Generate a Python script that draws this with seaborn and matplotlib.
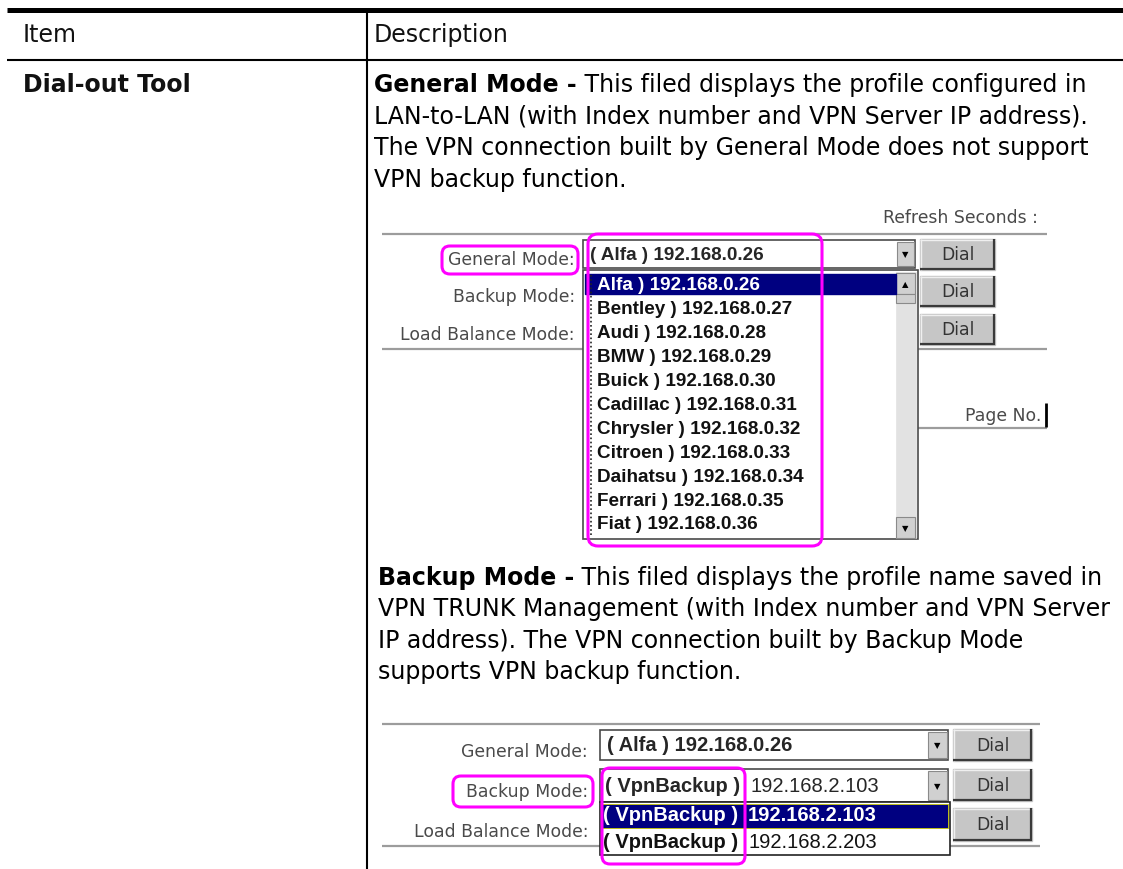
import matplotlib
matplotlib.use("Agg")
import matplotlib.pyplot as plt
import seaborn as sns
from matplotlib.patches import Rectangle, FancyBboxPatch

# table text
item_header = "Item"
desc_header = "Description"
item_name = "Dial-out Tool"

general_lines = [
    [("General Mode -", "bold"), (" This filed displays the profile configured in", "normal")],
    [("LAN-to-LAN (with Index number and VPN Server IP address).", "normal")],
    [("The VPN connection built by General Mode does not support", "normal")],
    [("VPN backup function.", "normal")],
]
backup_lines = [
    [("Backup Mode -", "bold"), (" This filed displays the profile name saved in", "normal")],
    [("VPN TRUNK Management (with Index number and VPN Server", "normal")],
    [("IP address). The VPN connection built by Backup Mode", "normal")],
    [("supports VPN backup function.", "normal")],
]

# screenshot contents
mode_labels = ["General Mode:", "Backup Mode:", "Load Balance Mode:"]
button_text = "Dial"
refresh_label = "Refresh Seconds :"
page_label = "Page No."
profile_names = ["Alfa", "Bentley", "Audi", "BMW", "Buick", "Cadillac",
                 "Chrysler", "Citroen", "Daihatsu", "Ferrari", "Fiat"]
profile_ips = ["192.168.0.26", "192.168.0.27", "192.168.0.28", "192.168.0.29",
               "192.168.0.30", "192.168.0.31", "192.168.0.32", "192.168.0.33",
               "192.168.0.34", "192.168.0.35", "192.168.0.36"]
trunk_names = ["VpnBackup", "VpnBackup"]
trunk_ips = ["192.168.2.103", "192.168.2.203"]

MAGENTA = "#ff00ff"
NAVY = "#000080"
SEP = "#9c9c9c"
LABEL = "#4a4a4a"
BODY = 17.0
UI = 12.4

sns.set_theme(style="white")
plt.rcParams["font.family"] = ["DejaVu Sans"]

fig = plt.figure(figsize=(11.23, 8.70), dpi=100)
ax = fig.add_axes([0, 0, 1, 1])
ax.set_xlim(0, 1123)
ax.set_ylim(870, 0)
ax.axis("off")


def hline(x0, x1, y, color=SEP, lw=1.6, z=2):
    ax.plot([x0, x1], [y, y], color=color, lw=lw, solid_capstyle="butt", zorder=z)


def vline(x, y0, y1, color="black", lw=1.5, z=2, ls="-"):
    ax.plot([x, x], [y0, y1], color=color, lw=lw, ls=ls, solid_capstyle="butt", zorder=z)


def box(x, y, w, h, fc="white", ec="#555555", lw=1.0, z=3):
    ax.add_patch(Rectangle((x, y), w, h, facecolor=fc, edgecolor=ec, lw=lw, zorder=z))


def ring(x, y, w, h, r=8):
    ax.add_patch(FancyBboxPatch((x, y), w, h, boxstyle=f"round,pad=0,rounding_size={r}",
                                facecolor="none", edgecolor=MAGENTA, lw=2.2, zorder=10))


def button(x, y, w, h):
    box(x, y, w, h, fc="#c6c6c6", ec="#c6c6c6", z=3)
    hline(x, x + w, y + 0.5, color="#efefef", lw=1, z=4)
    vline(x + 0.5, y, y + h, color="#efefef", lw=1, z=4)
    hline(x, x + w, y + h - 1, color="#3a3a3a", lw=1.6, z=4)
    vline(x + w - 1, y, y + h, color="#3a3a3a", lw=1.6, z=4)
    ax.text(x + w / 2, y + h / 2, button_text, ha="center", va="center",
            fontsize=UI, color="#333333", zorder=5)


def arrow_btn(x, y, w, h, glyph="\u25bc"):
    box(x, y, w, h, fc="#d0d0d0", ec="#8a8a8a", lw=0.8, z=4)
    ax.text(x + w / 2, y + h / 2, glyph, ha="center", va="center", fontsize=6,
            color="black", zorder=5)


def rich_line(x, y, parts, size=BODY, color="black"):
    prev = None
    for txt, weight in parts:
        if prev is None:
            prev = ax.text(x, y, txt, fontsize=size, fontweight=weight, color=color,
                           ha="left", va="center", zorder=6)
        else:
            prev = ax.annotate(txt, xy=(1, 0), xycoords=prev, fontsize=size,
                               fontweight=weight, color=color, ha="left",
                               va="bottom", zorder=6)


# ---- table frame ----
hline(7, 1123, 11, color="black", lw=3.6)
hline(7, 1123, 61, color="black", lw=1.5)
vline(367, 13, 870, color="black", lw=1.5)
ax.text(23, 35, item_header, fontsize=BODY, fontweight="medium", va="center", color="#111111")
ax.text(374, 35, desc_header, fontsize=BODY, fontweight="medium", va="center", color="#111111")
ax.text(23, 85, item_name, fontsize=BODY, fontweight="bold", va="center", color="#111111")

for i, parts in enumerate(general_lines):
    rich_line(374, 85 + i * 31.6, parts)
for i, parts in enumerate(backup_lines):
    rich_line(378, 578 + i * 31.3, parts)

# ---- screenshot 1 : general mode list ----
ax.text(1038, 218, refresh_label, ha="right", va="center", fontsize=UI, color=LABEL)
hline(382, 1047, 235)
hline(382, 583, 350)
hline(918, 1047, 350)
hline(918, 1047, 429)
for lab, y in zip(mode_labels, [260, 297, 335]):
    ax.text(575, y, lab, ha="right", va="center", fontsize=UI, color=LABEL)

box(583, 241, 332, 28, ec="#4a4a4a", lw=1.2)
arrow_btn(897, 243, 17, 24)
ax.text(590, 256, f"( {profile_names[0]} ) {profile_ips[0]}", family="Liberation Sans",
        fontweight="bold", fontsize=13.6, va="center", zorder=6)
for y0 in [240, 277, 315]:
    button(920, y0, 75, 31)

box(583, 271, 335, 269, ec="#4a4a4a", lw=1.2)
box(896, 273, 20, 266, fc="#e2e2e2", ec="#e2e2e2", lw=0.5, z=4)
arrow_btn(896, 274, 19, 21, "\u25b2")
box(896, 295, 19, 9, fc="#d0d0d0", ec="#8a8a8a", lw=0.8, z=4)
arrow_btn(896, 518, 19, 21)
box(585, 275, 311, 20, fc=NAVY, ec=NAVY, z=4)
for i, (name, ip) in enumerate(zip(profile_names, profile_ips)):
    ax.text(597, 286 + i * 23.9, f"{name} ) {ip}", family="Liberation Sans",
            fontweight="bold", fontsize=13.6, va="center",
            color="white" if i == 0 else "#111111", zorder=6)
vline(591, 276, 537, color="#222222", lw=1.2, z=6, ls=(0, (1, 1.5)))

ax.text(1041, 416, page_label, ha="right", va="center", fontsize=UI, color=LABEL)
vline(1046, 404, 428, color="black", lw=2)

ring(442, 247, 136, 28)
ring(588, 235, 234, 312, r=10)

# ---- screenshot 2 : backup mode list ----
hline(382, 1040, 725)
hline(382, 600, 847)
hline(950, 1040, 847)
for lab, y in zip(mode_labels, [752, 792, 832]):
    ax.text(588, y, lab, ha="right", va="center", fontsize=UI, color=LABEL)

box(600, 731, 348, 30, ec="#4a4a4a", lw=1.2)
arrow_btn(928, 733, 19, 26)
ax.text(607, 746, f"( {profile_names[0]} ) {profile_ips[0]}", family="Liberation Sans",
        fontweight="bold", fontsize=14.5, va="center", zorder=6)

box(600, 770, 348, 33, ec="#4a4a4a", lw=1.2)
arrow_btn(928, 772, 19, 29)
ax.text(605, 787, f"( {trunk_names[0]} )", family="Liberation Sans",
        fontweight="bold", fontsize=14.5, va="center", zorder=6)
ax.text(750, 787, trunk_ips[0], family="Liberation Sans",
        fontsize=14.5, va="center", zorder=6)

for y0, h in zip([730, 770, 809], [32, 32, 33]):
    button(953, y0, 79, h)

box(600, 803, 350, 53, ec="#222222", lw=1.2, z=5)
box(601, 805, 347, 24, fc=NAVY, ec="#c8c800", lw=0.6, z=5)
for i, (name, ip) in enumerate(zip(trunk_names, trunk_ips)):
    y = 816 + i * 27
    col = "white" if i == 0 else "#111111"
    ax.text(603, y, f"( {name} )", family="Liberation Sans", fontweight="bold",
            fontsize=14.5, va="center", color=col, zorder=6)
    ax.text(748, y, ip, family="Liberation Sans",
            fontweight="bold" if i == 0 else "normal",
            fontsize=14.5, va="center", color=col, zorder=6)

ring(453, 777, 140, 31)
ring(602, 769, 143, 96)

fig.savefig("out.png", dpi=100)
